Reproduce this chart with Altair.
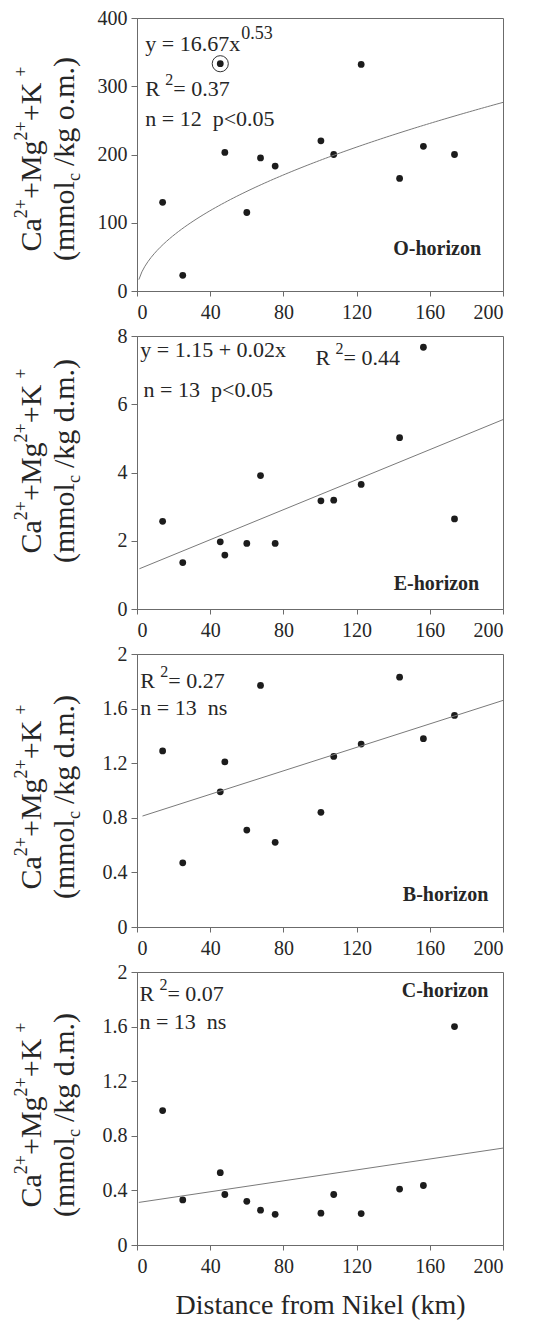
import altair as alt
import numpy as np
import pandas as pd

FONT = "Liberation Serif"
INK = "#262626"
AXIS_GREY = "#6b6b6b"
FIT_GREY = "#7a7a7a"

# Sampling sites (distance from the Nikel smelter, km)
distance_km = [14, 25, 45.5, 48, 60, 67.5, 75.5, 100.5, 107.5, 122.5, 143.5, 156.5, 173.5]

# Exchangeable Ca2+ + Mg2+ + K+ per horizon
o_horizon = [130, 23, 333, 203, 115, 195, 183, 220, 200, 332, 165, 212, 200]
e_horizon = [2.57, 1.36, 1.97, 1.58, 1.92, 3.91, 1.92, 3.17, 3.19, 3.65, 5.02, 7.67, 2.64]
b_horizon = [1.29, 0.47, 0.99, 1.21, 0.71, 1.77, 0.62, 0.84, 1.25, 1.34, 1.83, 1.38, 1.55]
c_horizon = [0.985, 0.33, 0.53, 0.37, 0.32, 0.255, 0.225, 0.233, 0.37, 0.23, 0.41, 0.436, 1.60]
o_excluded = [2]  # circled site, left out of the O-horizon fit (n = 12)

x_ticks = [0, 40, 80, 120, 160, 200]
o_ticks = [0, 100, 200, 300, 400]
e_ticks = [0, 2, 4, 6, 8]
bc_ticks = [0, 0.4, 0.8, 1.2, 1.6, 2]

# Regression models
o_power = (16.67, 0.53)    # y = a * x^b
e_linear = (1.15, 0.022)   # y = a + b*x
b_linear = (0.80, 0.0043)
c_linear = (0.31, 0.002)

# Times-metric advance widths (em) for laying out super/subscript pieces
EM = {"C": .667, "a": .444, "+": .564, "M": .889, "g": .5, "K": .722, "2": .5,
      "(": .333, "m": .778, "o": .5, "l": .278, "c": .444, "/": .278, "k": .5,
      ".": .25, "d": .5, ")": .333, " ": .25}


def text_width(s, size):
    return sum(EM.get(ch, .5) for ch in s) * size


ONE = pd.DataFrame({"k": [0]})
TITLE_SIZE = 30
SCRIPT_SIZE = 18


def y_title(unit, center):
    lines = [
        (-96, [("Ca", TITLE_SIZE, 0, 0), ("2+", SCRIPT_SIZE, -14, 0),
               ("+Mg", TITLE_SIZE, 0, 0), ("2+", SCRIPT_SIZE, -14, 0),
               ("+K", TITLE_SIZE, 0, 0), ("+", SCRIPT_SIZE, -14, 6)]),
        (-63, [("(mmol", TITLE_SIZE, 0, 0), ("c", SCRIPT_SIZE, 6, 0),
               ("/kg " + unit + ")", TITLE_SIZE, 0, 7)]),
    ]
    layers = []
    for base_x, segs in lines:
        total = sum(gap + text_width(t, s) for t, s, _, gap in segs)
        start = center + total / 2
        pos = 0
        for t, s, dy, gap in segs:
            pos += gap
            layers.append(
                alt.Chart(ONE).mark_text(
                    text=t, angle=270, align="left", baseline="alphabetic",
                    font=FONT, fontSize=s, color=INK, dx=pos, dy=dy,
                ).encode(x=alt.value(base_x), y=alt.value(start))
            )
            pos += text_width(t, s)
    return layers


def fit_frame(model, kind, start):
    a, b = model
    if kind == "power":
        xs = np.linspace(start, 200, 120)
        ys = a * xs ** b
    else:
        xs = np.array([start, 200.0])
        ys = a + b * xs
    return pd.DataFrame({"x": xs, "y": ys})


def panel(values, ticks, ymax, fit, notes, unit, title_center, x_title=None, circled=()):
    df = pd.DataFrame({"distance": distance_km, "value": values})
    xs = alt.Scale(domain=[0, 200], nice=False, zero=False)
    ys = alt.Scale(domain=[0, ymax], nice=False)
    xkw = dict(values=x_ticks, format="d", tickSize=5, labelPadding=6,
               labelFontSize=20, labelFont=FONT, labelColor=INK,
               domainColor=AXIS_GREY, tickColor=AXIS_GREY, grid=False)
    if x_title:
        xkw.update(title=x_title, titleFont=FONT, titleFontSize=28,
                   titleFontWeight="normal", titleColor=INK, titlePadding=15)
    else:
        xkw.update(title=None)
    xaxis = alt.Axis(**xkw)
    yaxis = alt.Axis(values=ticks, labelExpr="'' + datum.value", title=None,
                     tickSize=6, labelPadding=4, labelFontSize=20,
                     labelFont=FONT, labelColor=INK, domainColor=AXIS_GREY,
                     tickColor=AXIS_GREY, grid=False)

    def X(f):
        return alt.X(f, type="quantitative", scale=xs, axis=xaxis)

    def Y(f):
        return alt.Y(f, type="quantitative", scale=ys, axis=yaxis)

    layers = [
        alt.Chart(df).mark_circle(size=46, color="#1c1c1c", opacity=1).encode(
            x=X("distance"), y=Y("value")),
        alt.Chart(fit).mark_line(color=FIT_GREY, strokeWidth=1).encode(
            x=X("x"), y=Y("y")),
    ]
    if circled:
        ring = df.iloc[list(circled)]
        layers.append(
            alt.Chart(ring).mark_point(shape="circle", filled=False, size=260,
                                       color="#333333", strokeWidth=1,
                                       opacity=1).encode(
                x=X("distance"), y=Y("value")))
    for text, nx, ny, dx, dy, size, weight, align in notes:
        nd = pd.DataFrame({"x": [nx], "y": [ny]})
        layers.append(
            alt.Chart(nd).mark_text(
                text=text, font=FONT, fontSize=size, fontWeight=weight,
                align=align, baseline="alphabetic", color=INK, dx=dx, dy=dy,
            ).encode(x=X("x"), y=Y("y")))
    layers += y_title(unit, title_center)
    return alt.layer(*layers).properties(width=366, height=273)


NB = "\u00a0"
o_notes = [
    ("y = 16.67x", 4.5, 352, 0, 0, 22, "normal", "left"),
    ("0.53", 4.5, 352, 96, -12, 18, "normal", "left"),
    ("R", 4.5, 286, 0, 0, 22, "normal", "left"),
    ("2", 4.5, 286, 20, -11, 16, "normal", "left"),
    ("= 0.37", 4.5, 286, 28, 0, 22, "normal", "left"),
    ("n = 12" + NB + NB + "p<0.05", 4.5, 242, 0, 0, 22, "normal", "left"),
    ("O-horizon", 188, 52.6, 0, 0, 20, "bold", "right"),
]
e_notes = [
    ("y = 1.15 + 0.02x", 1.8, 7.37, 0, 0, 22, "normal", "left"),
    ("R", 97.6, 7.16, 0, 0, 22, "normal", "left"),
    ("2", 97.6, 7.16, 20, -11, 16, "normal", "left"),
    ("= 0.44", 97.6, 7.16, 28, 0, 22, "normal", "left"),
    ("n = 13" + NB + NB + "p<0.05", 3.6, 6.2, 0, 0, 22, "normal", "left"),
    ("E-horizon", 187, 0.57, 0, 0, 20, "bold", "right"),
]
b_notes = [
    ("R", 1.8, 1.75, 0, 0, 22, "normal", "left"),
    ("2", 1.8, 1.75, 20, -11, 16, "normal", "left"),
    ("= 0.27", 1.8, 1.75, 28, 0, 22, "normal", "left"),
    ("n = 13" + NB + NB + "ns", 1.8, 1.55, 0, 0, 22, "normal", "left"),
    ("B-horizon", 192, 0.19, 0, 0, 20, "bold", "right"),
]
c_notes = [
    ("R", 1.3, 1.79, 0, 0, 22, "normal", "left"),
    ("2", 1.3, 1.79, 20, -11, 16, "normal", "left"),
    ("= 0.07", 1.3, 1.79, 28, 0, 22, "normal", "left"),
    ("n = 13" + NB + NB + "ns", 1.3, 1.58, 0, 0, 22, "normal", "left"),
    ("C-horizon", 192, 1.82, 0, 0, 20, "bold", "right"),
]

p_o = panel(o_horizon, o_ticks, 400, fit_frame(o_power, "power", 1), o_notes,
            "o.m.", 141, circled=o_excluded)
p_e = panel(e_horizon, e_ticks, 8, fit_frame(e_linear, "linear", 1.3), e_notes,
            "d.m.", 125)
p_b = panel(b_horizon, bc_ticks, 2, fit_frame(b_linear, "linear", 3), b_notes,
            "d.m.", 143)
p_c = panel(c_horizon, bc_ticks, 2, fit_frame(c_linear, "linear", 1), c_notes,
            "d.m.", 143, x_title="Distance from Nikel (km)")

chart = alt.vconcat(p_o, p_e, p_b, p_c, spacing=2).properties(
    padding={"left": 12, "top": 7, "right": 5, "bottom": 2},
    background="white",
).configure_view(stroke=AXIS_GREY, strokeWidth=1)

chart.save("out.html", embed_options={"renderer": "svg", "actions": False})
